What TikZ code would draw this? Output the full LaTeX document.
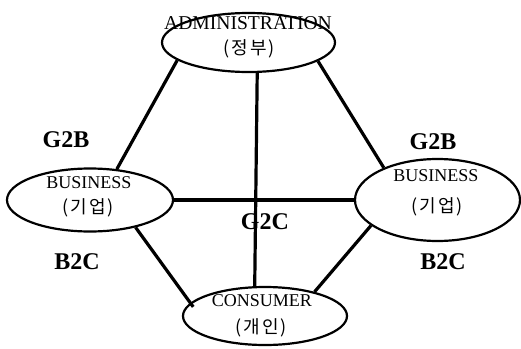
\documentclass[tikz,border=0pt]{standalone}
\usepackage{fontspec}
\setmainfont{Liberation Serif}
\newfontfamily\kr[LetterSpace=12]{Noto Sans CJK KR}
\usetikzlibrary{shapes.geometric}

\tikzset{
  party/.style={draw, ellipse, line width=1.1pt, inner sep=0pt},
  partyname/.style={font=\fontsize{9}{10}\selectfont, inner sep=0pt},
  partykr/.style={font=\kr\fontsize{9}{10}\selectfont, inner sep=0pt},
  link/.style={line width=1.6pt},
  deal/.style={font=\bfseries\fontsize{12}{14}\selectfont, inner sep=0pt},
}

\begin{document}
\begin{tikzpicture}[x=0.5pt, y=-0.5pt]
  \useasboundingbox (0,0) rectangle (521,349);
  % the four parties
  \node[party, minimum width=86.5pt, minimum height=29.5pt] (admin) at (248.5,42.5) {};
  \node[party, minimum width=83pt, minimum height=31.5pt] (bizL) at (90,200) {};
  \node[party, minimum width=82.5pt, minimum height=41pt] (bizR) at (437.5,200) {};
  \node[party, minimum width=82pt, minimum height=29pt] (consumer) at (265,316) {};
  \node[partyname, font=\fontsize{9.8}{10}\selectfont] (adminname) at (248,23) {ADMINISTRATION};
  \node[partykr] (adminkr) at (249,49) {(정부)};
  \node[partyname] (bizLname) at (89,183) {BUSINESS};
  \node[partykr] (bizLkr) at (88,208) {(기업)};
  \node[partyname] (bizRname) at (436,176) {BUSINESS};
  \node[partykr] (bizRkr) at (437,207) {(기업)};
  \node[partyname] (consumername) at (262,301) {CONSUMER};
  \node[partykr] (consumerkr) at (261,328) {(개인)};
  % links between them
  \draw[link] (admin.194.9) -- (bizL.49.4);
  \draw[link] (admin.345.4) -- (bizR.149);
  \draw[link] (admin.286) -- (consumer.109);
  \draw[link] (bizL.east) -- (bizR.west);
  \draw[link, shorten >=-2.5pt] (bizL.329) -- (consumer.170);
  \draw[link] (bizR.201.8) -- (consumer.26.6);
  % kinds of trade
  \node[deal] (g2bL) at (66,140) {G2B};
  \node[deal] (g2bR) at (433,142) {G2B};
  \node[deal] (g2c) at (265,222) {G2C};
  \node[deal] (b2cL) at (77,262) {B2C};
  \node[deal] (b2cR) at (443,262) {B2C};
\end{tikzpicture}
\end{document}
